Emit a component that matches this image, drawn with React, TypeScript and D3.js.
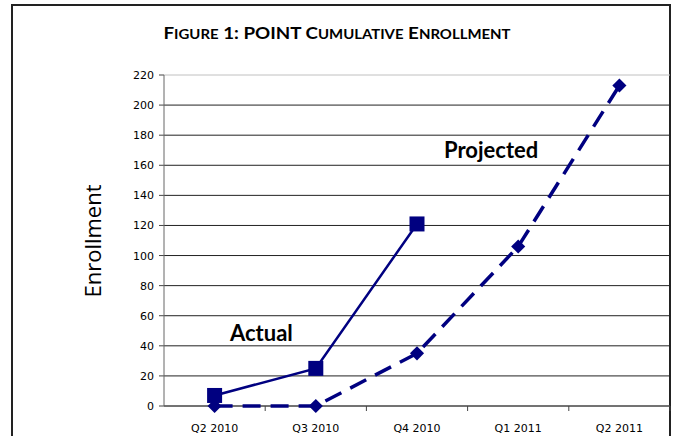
import React from "react";
import * as d3 from "d3";

const categories = ["Q2 2010", "Q3 2010", "Q4 2010", "Q1 2011", "Q2 2011"];
const actualValues = [7, 25, 121];
const projectedValues = [0, 0, 35, 106, 213];
const yTicks = [0, 20, 40, 60, 80, 100, 120, 140, 160, 180, 200, 220];

export default function App() {
  const W = 676, H = 436;
  const left = 164, right = 670, top = 75, bottom = 406;
  const x = d3.scaleBand<string>().domain(categories).range([left, right]);
  const y = d3.scaleLinear().domain([0, 220]).range([bottom, top]);
  const cx = (c: string) => (x(c) as number) + x.bandwidth() / 2;

  const line = d3.line<[string, number]>().x(d => cx(d[0])).y(d => y(d[1]));
  const actualPts: [string, number][] = actualValues.map((v, i) => [categories[i], v]);
  const projPts: [string, number][] = projectedValues.map((v, i) => [categories[i], v]);
  const navy = "#000080";

  return (
    <svg width={W} height={H} style={{ position: "absolute", left: 0, top: 0, background: "#fff" }}>
      <rect x={12} y={5} width={658} height={440} fill="none" stroke="#222" strokeWidth={2} />
      <text x={337} y={39} textAnchor="middle" fontFamily="Lato" fontWeight="bold" fontSize={17} fill="#000" textLength={347} lengthAdjust="spacingAndGlyphs">
        F<tspan fontSize={13.5}>IGURE</tspan> 1: POINT C<tspan fontSize={13.5}>UMULATIVE</tspan> E<tspan fontSize={13.5}>NROLLMENT</tspan>
      </text>
      {yTicks.map(t => (
        <g key={t}>
          <line x1={left} x2={right} y1={y(t)} y2={y(t)} stroke={t === 220 ? "#c0c0c0" : "#222"} strokeWidth={1} />
          <line x1={left - 5} x2={left} y1={y(t)} y2={y(t)} stroke="#444" />
          <text x={154} y={y(t) + 4} textAnchor="end" fontFamily="DejaVu Sans" fontSize={11} fill="#000">{t}</text>
        </g>
      ))}
      <line x1={left} x2={left} y1={top} y2={bottom} stroke="#666" strokeWidth={1} />
      <line x1={left} x2={right} y1={bottom} y2={bottom} stroke="#555" strokeWidth={1} />
      {categories.map((c, i) => (
        <g key={c}>
          {i > 0 && <line x1={x(c)} x2={x(c)} y1={bottom} y2={bottom + 5} stroke="#444" />}
          <text x={cx(c)} y={432} textAnchor="middle" fontFamily="DejaVu Sans" fontSize={11} fill="#000">{c}</text>
        </g>
      ))}
      <line x1={right} x2={right} y1={bottom} y2={bottom + 5} stroke="#444" />
      <text transform={`translate(101,241) rotate(-90)`} textAnchor="middle" fontFamily="Open Sans" fontSize={22} fill="#000">Enrollment</text>

      <path d={line(projPts) || ""} fill="none" stroke={navy} strokeWidth={3.5} strokeDasharray="18,10" />
      {projPts.map((p, i) => (
        <rect key={i} x={cx(p[0]) - 5} y={y(p[1]) - 5} width={10} height={10} fill={navy}
          transform={`rotate(45 ${cx(p[0])} ${y(p[1])})`} />
      ))}
      <path d={line(actualPts) || ""} fill="none" stroke={navy} strokeWidth={2.5} />
      {actualPts.map((p, i) => (
        <rect key={i} x={cx(p[0]) - 7.5} y={y(p[1]) - 7.5} width={15} height={15} fill={navy} />
      ))}
      <text x={230} y={341} fontFamily="Lato" fontWeight="bold" fontSize={22} fill="#000">Actual</text>
      <text x={444} y={158} fontFamily="Lato" fontWeight="bold" fontSize={22} fill="#000">Projected</text>
    </svg>
  );
}
